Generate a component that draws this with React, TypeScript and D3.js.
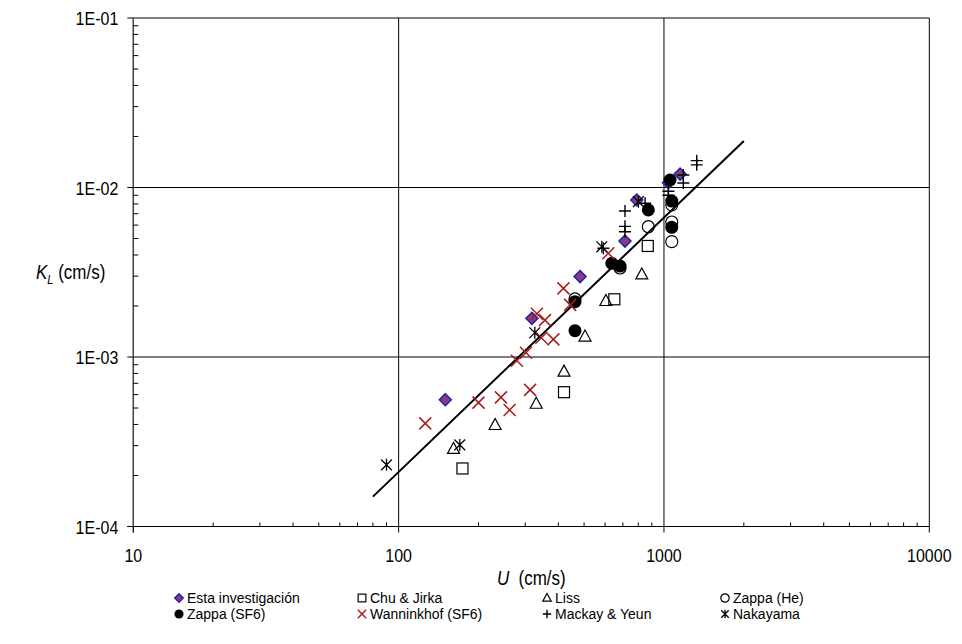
import React from 'react';
import * as d3 from 'd3';

const W = 962;
const H = 644;

const xTicks = [10, 100, 1000, 10000];
const xTickLabels = ['10', '100', '1000', '10000'];
const yTicks = [1e-1, 1e-2, 1e-3, 1e-4];
const yTickLabels = ['1E-01', '1E-02', '1E-03', '1E-04'];

const estaU = [150, 318, 483, 713, 790, 1039, 1150];
const estaK = [5.6e-4, 1.69e-3, 2.98e-3, 4.83e-3, 8.44e-3, 1.067e-2, 1.2e-2];

const chuU = [174, 420, 650, 869];
const chuK = [2.2e-4, 6.2e-4, 2.19e-3, 4.52e-3];

const lissU = [161, 231, 330, 420, 504, 604, 825];
const lissK = [2.87e-4, 3.97e-4, 5.3e-4, 8.2e-4, 1.32e-3, 2.14e-3, 3.07e-3];

const zappaHeU = [462, 683, 873, 1070, 1070, 1070];
const zappaHeK = [2.2e-3, 3.35e-3, 5.87e-3, 7.9e-3, 6.26e-3, 4.79e-3];

const zappaSF6U = [462, 462, 636, 683, 873, 1054, 1070, 1070];
const zappaSF6K = [1.43e-3, 2.12e-3, 3.57e-3, 3.44e-3, 7.37e-3, 1.107e-2, 8.32e-3, 5.82e-3];

const wannU = [126, 200, 243, 262, 279, 302, 313, 332, 356, 345, 383, 418, 443, 617];
const wannK = [4.06e-4, 5.38e-4, 5.78e-4, 4.87e-4, 9.51e-4, 1.06e-3, 6.4e-4, 1.8e-3, 1.65e-3, 1.3e-3, 1.27e-3, 2.54e-3, 2.03e-3, 4.09e-3];

const mackayU = [591, 713, 713, 713, 849, 1039, 1039, 1183, 1183, 1329, 1329];
const mackayK = [4.38e-3, 7.27e-3, 5.9e-3, 5.48e-3, 8.07e-3, 9.5e-3, 9.0e-3, 1.185e-2, 1.063e-2, 1.44e-2, 1.36e-2];

const nakaU = [90, 170, 326, 583, 801];
const nakaK = [2.31e-4, 3.03e-4, 1.39e-3, 4.47e-3, 8.25e-3];

const fitU = [80, 2000];
const fitK = [1.5e-4, 1.88e-2];

const legendNames = [
  'Esta investigación', 'Chu & Jirka', 'Liss', 'Zappa (He)',
  'Zappa (SF6)', 'Wanninkhof (SF6)', 'Mackay & Yeun', 'Nakayama',
];

const FONT = 'Liberation Sans, Arial, sans-serif';
const RED = '#A81E1E';

type Kind = 'diamond' | 'square' | 'triangle' | 'ocircle' | 'circle' | 'x' | 'plus' | 'star';

function Marker({ kind, x, y, s = 1 }: { kind: Kind; x: number; y: number; s?: number }) {
  const r = 6 * s;
  const t = `translate(${x},${y})`;
  switch (kind) {
    case 'diamond':
      return <path transform={t} d={`M0,${-r}L${r},0L0,${r}L${-r},0Z`} fill="#8C3A7E" stroke="#2424A8" strokeWidth={1.5} />;
    case 'square':
      return <rect transform={t} x={-5.5 * s} y={-5.5 * s} width={11 * s} height={11 * s} fill="none" stroke="#000" strokeWidth={1.2} />;
    case 'triangle':
      return <path transform={t} d={`M0,${-6.5 * s}L${6 * s},${4.5 * s}L${-6 * s},${4.5 * s}Z`} fill="none" stroke="#000" strokeWidth={1.2} />;
    case 'ocircle':
      return <circle transform={t} r={6 * s} fill="none" stroke="#000" strokeWidth={1.2} />;
    case 'circle':
      return <circle transform={t} r={6.5 * s} fill="#000" />;
    case 'x':
      return <path transform={t} d={`M${-r},${-r}L${r},${r}M${-r},${r}L${r},${-r}`} stroke={RED} strokeWidth={1.5} />;
    case 'plus':
      return <path transform={t} d={`M${-r},0L${r},0M0,${-r}L0,${r}`} stroke="#000" strokeWidth={1.4} />;
    case 'star':
      return <path transform={t} d={`M${-r * 0.9},${-r * 0.9}L${r * 0.9},${r * 0.9}M${-r * 0.9},${r * 0.9}L${r * 0.9},${-r * 0.9}M0,${-r}L0,${r}`} stroke="#000" strokeWidth={1.3} />;
  }
  return null;
}

const series: { kind: Kind; u: number[]; k: number[] }[] = [
  { kind: 'diamond', u: estaU, k: estaK },
  { kind: 'square', u: chuU, k: chuK },
  { kind: 'triangle', u: lissU, k: lissK },
  { kind: 'ocircle', u: zappaHeU, k: zappaHeK },
  { kind: 'circle', u: zappaSF6U, k: zappaSF6K },
  { kind: 'x', u: wannU, k: wannK },
  { kind: 'plus', u: mackayU, k: mackayK },
  { kind: 'star', u: nakaU, k: nakaK },
];

export default function App() {
  const left = 133.3, right = 929.3, top = 18, bottom = 526.5;
  const x = d3.scaleLog().domain([10, 10000]).range([left, right]);
  const y = d3.scaleLog().domain([1e-4, 1e-1]).range([bottom, top]);

  const minorX: number[] = [];
  for (let d = 10; d < 10000; d *= 10) for (let m = 2; m <= 9; m++) minorX.push(d * m);
  const minorY: number[] = [];
  for (let d = 1e-4; d < 0.099; d *= 10) for (let m = 2; m <= 9; m++) minorY.push(d * m);

  const line = d3.line<number>().x((_, i) => x(fitU[i])).y((_, i) => y(fitK[i]));

  const sy = 1.15;
  const fs = 16;
  const lfs = 14;
  const lsy = 1.1;

  const legendCols = [179, 362, 547, 725];
  const legendRows = [598, 614];
  const legendKinds: Kind[] = ['diamond', 'square', 'triangle', 'ocircle', 'circle', 'x', 'plus', 'star'];

  return (
    <div style={{ position: 'absolute', left: 0, top: 0 }}>
      <svg width={W} height={H} style={{ display: 'block', background: '#fff' }}>
        <rect x={0} y={0} width={W} height={H} fill="#fff" />
        {xTicks.map((t) => (
          <line key={'gx' + t} x1={x(t)} x2={x(t)} y1={top} y2={bottom} stroke="#000" strokeWidth={1} />
        ))}
        {yTicks.map((t) => (
          <line key={'gy' + t} x1={left} x2={right} y1={y(t)} y2={y(t)} stroke="#000" strokeWidth={1} />
        ))}
        <line x1={left} x2={left} y1={top} y2={bottom + 6} stroke="#444" strokeWidth={1.2} />
        <line x1={left - 6} x2={right} y1={bottom} y2={bottom} stroke="#000" strokeWidth={1.2} />
        {xTicks.map((t) => (
          <line key={'tx' + t} x1={x(t)} x2={x(t)} y1={bottom} y2={bottom + 6} stroke="#000" />
        ))}
        {yTicks.map((t) => (
          <line key={'ty' + t} x1={left - 6} x2={left} y1={y(t)} y2={y(t)} stroke="#000" />
        ))}
        {minorX.map((t) => (
          <line key={'mx' + t} x1={x(t)} x2={x(t)} y1={bottom} y2={bottom - 4} stroke="#000" />
        ))}
        {minorY.map((t) => (
          <line key={'my' + t} x1={left} x2={left + 5} y1={y(t)} y2={y(t)} stroke="#000" />
        ))}
        {xTicks.map((t, i) => (
          <text key={'lx' + t} transform={`translate(${x(t)},${bottom + 35}) scale(1,${sy})`} textAnchor="middle"
            fontFamily={FONT} fontSize={fs} fill="#000">{xTickLabels[i]}</text>
        ))}
        {yTicks.map((t, i) => (
          <text key={'ly' + t} transform={`translate(${left - 15},${y(t) + 7}) scale(1,${sy})`} textAnchor="end"
            fontFamily={FONT} fontSize={fs} fill="#000">{yTickLabels[i]}</text>
        ))}
        <text transform={`translate(${(left + right) / 2},${585}) scale(1,${sy})`} textAnchor="middle" fontFamily={FONT} fontSize={17} fill="#000" xmlSpace="preserve">
          <tspan fontStyle="italic">U</tspan>
          <tspan>{'  (cm/s)'}</tspan>
        </text>
        <text transform={`translate(36,${279}) scale(1,${sy})`} fontFamily={FONT} fontSize={17} fill="#000" xmlSpace="preserve">
          <tspan fontStyle="italic">K</tspan>
          <tspan fontStyle="italic" fontSize={11} dy={4}>L</tspan>
          <tspan dy={-4}>{' (cm/s)'}</tspan>
        </text>
        <path d={line(fitU) || ''} fill="none" stroke="#000" strokeWidth={2} />
        {series.map((s, si) =>
          s.u.map((u, i) => <Marker key={si + '-' + i} kind={s.kind} x={x(u)} y={y(s.k[i])} />)
        )}
        {legendNames.map((name, i) => {
          const cx = legendCols[i % 4];
          const cy = legendRows[Math.floor(i / 4)];
          return (
            <g key={'lg' + i}>
              <Marker kind={legendKinds[i]} x={cx} y={cy} s={0.7} />
              <text transform={`translate(${cx + 8},${cy + 5}) scale(1,${lsy})`} fontFamily={FONT} fontSize={lfs} fill="#000">{name}</text>
            </g>
          );
        })}
      </svg>
    </div>
  );
}
